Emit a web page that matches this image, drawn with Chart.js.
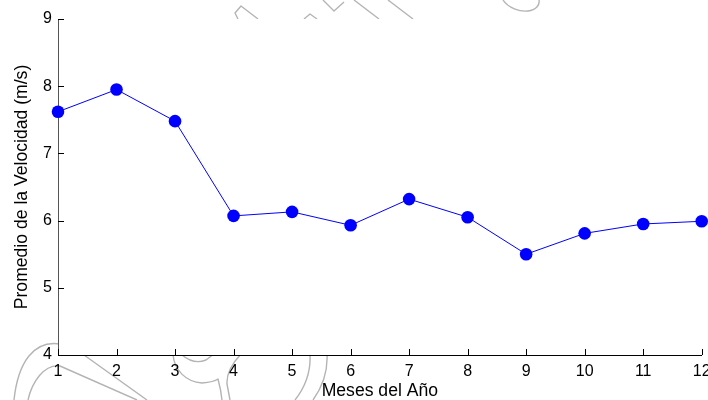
<!DOCTYPE html>
<html>
<head>
<meta charset="utf-8">
<script src="https://cdn.jsdelivr.net/npm/chart.js@4/dist/chart.umd.min.js"></script>
<style>
  html, body { margin: 0; padding: 0; background: #fff; overflow: hidden; }
  #wrap { width: 708px; height: 400px; position: relative; }
</style>
</head>
<body>
<div id="wrap"><canvas id="grafico" width="708" height="400"></canvas></div>
<script>
// Promedio mensual de la velocidad del viento (m/s)
const meses = [1, 2, 3, 4, 5, 6, 7, 8, 9, 10, 11, 12];
const velocidad = [7.62, 7.95, 7.48, 6.07, 6.13, 5.93, 6.32, 6.05, 5.50, 5.81, 5.95, 5.99];
const ticksY = [4, 5, 6, 7, 8, 9];

const FUENTE = "'Liberation Sans', Arial, sans-serif";
const AZUL = '#0000ff';

// Faint line-art printed on the page; the white axes box hides it.
const fondoDibujo = {
  id: 'fondoDibujo',
  beforeDraw(chart) {
    const { ctx, chartArea: a, width, height } = chart;
    ctx.save();
    ctx.beginPath();
    ctx.rect(0, 0, width, height);
    ctx.rect(a.left, a.top, a.right - a.left, a.bottom - a.top);
    ctx.clip('evenodd');
    ctx.strokeStyle = '#b4b4b4';
    ctx.lineWidth = 1.4;
    ctx.lineJoin = 'round';
    const trazo = (f) => { ctx.beginPath(); f(); ctx.stroke(); };
    // lower left loops
    trazo(() => { ctx.moveTo(14, 400); ctx.bezierCurveTo(18, 362, 34, 340, 60, 344); ctx.lineTo(84, 355); ctx.lineTo(147, 400); });
    trazo(() => { ctx.moveTo(28, 400); ctx.bezierCurveTo(32, 382, 44, 364, 60, 366); ctx.lineTo(137, 400); });
    // shape under 3 and 4
    trazo(() => { ctx.moveTo(173, 354); ctx.bezierCurveTo(174, 370, 186, 382, 202, 383); ctx.quadraticCurveTo(214, 382, 218, 379); ctx.quadraticCurveTo(221, 390, 222, 400); });
    trazo(() => { ctx.moveTo(182, 355); ctx.quadraticCurveTo(194, 365, 206, 360); ctx.lineTo(214, 354); });
    trazo(() => { ctx.moveTo(241, 354); ctx.quadraticCurveTo(226, 370, 227, 384); ctx.lineTo(230, 400); });
    // arcs under 5 and 6
    trazo(() => { ctx.moveTo(310, 354); ctx.bezierCurveTo(311, 372, 306, 386, 295, 400); });
    trazo(() => { ctx.moveTo(327, 354); ctx.bezierCurveTo(328, 372, 323, 386, 313, 400); });
    // top edge pieces
    trazo(() => { ctx.moveTo(238, 19); ctx.lineTo(235, 13); ctx.lineTo(241, 6); ctx.lineTo(258, 19); });
    trazo(() => { ctx.moveTo(304, 19); ctx.lineTo(310, 14); ctx.lineTo(317, 19); });
    trazo(() => { ctx.moveTo(323, 0); ctx.lineTo(334, 11); ctx.lineTo(344, 2); });
    trazo(() => { ctx.moveTo(354, 0); ctx.lineTo(379, 19); });
    trazo(() => { ctx.moveTo(388, 0); ctx.lineTo(413, 19); });
    trazo(() => { ctx.moveTo(503, 0); ctx.bezierCurveTo(508, 8, 520, 12, 528, 11); ctx.bezierCurveTo(536, 10, 540, 5, 539, 0); });
    ctx.restore();
  }
};

// Short tick marks pointing into the plot box
const marcasInternas = {
  id: 'marcasInternas',
  afterDraw(chart) {
    const { ctx, scales: { x, y }, chartArea: a } = chart;
    const largo = 6;
    ctx.save();
    ctx.strokeStyle = '#000';
    ctx.lineWidth = 1;
    ctx.beginPath();
    x.ticks.forEach(t => {
      const px = Math.round(x.getPixelForValue(t.value)) + 0.5;
      ctx.moveTo(px, a.bottom);
      ctx.lineTo(px, a.bottom - largo);
    });
    y.ticks.forEach(t => {
      const py = Math.round(y.getPixelForValue(t.value)) + 0.5;
      ctx.moveTo(a.left, py);
      ctx.lineTo(a.left + largo, py);
    });
    ctx.stroke();
    ctx.restore();
  }
};

new Chart(document.getElementById('grafico'), {
  type: 'line',
  data: {
    datasets: [{
      data: meses.map((m, i) => ({ x: m, y: velocidad[i] })),
      borderColor: AZUL,
      borderWidth: 1,
      backgroundColor: AZUL,
      pointBackgroundColor: AZUL,
      pointBorderColor: AZUL,
      pointBorderWidth: 0,
      pointRadius: 6.3,
      tension: 0,
      fill: false,
      clip: false
    }]
  },
  options: {
    responsive: false,
    animation: false,
    devicePixelRatio: 1,
    layout: { padding: { top: 19, right: 6, left: 0, bottom: 0 } },
    plugins: { legend: { display: false }, tooltip: { enabled: false } },
    scales: {
      x: {
        type: 'linear',
        min: 1,
        max: 12,
        afterBuildTicks: s => { s.ticks = meses.map(v => ({ value: v })); },
        afterFit: s => { s.height = 45; s.paddingLeft = 0; s.paddingRight = 0; },
        grid: { display: false, drawTicks: false },
        border: { display: true, color: '#000', width: 1 },
        ticks: {
          color: '#000', padding: 7, maxRotation: 0, autoSkip: false,
          font: { family: FUENTE, size: 16 },
          callback: v => String(v)
        },
        title: {
          display: true, text: 'Meses del Año', color: '#000',
          font: { family: FUENTE, size: 17.6, lineHeight: 1 },
          padding: { top: 0, bottom: 0 }
        }
      },
      y: {
        min: 4,
        max: 9,
        afterBuildTicks: s => { s.ticks = ticksY.map(v => ({ value: v })); },
        afterFit: s => { s.width = 58; s.paddingTop = 0; s.paddingBottom = 0; },
        grid: { display: false, drawTicks: false },
        border: { display: true, color: '#555', width: 1 },
        ticks: {
          color: '#000', padding: 6,
          font: { family: FUENTE, size: 16 },
          callback: v => String(v)
        },
        title: {
          display: true, text: 'Promedio de la Velocidad (m/s)', color: '#000',
          font: { family: FUENTE, size: 17.6, lineHeight: 1 },
          padding: { top: 13, bottom: 0 }
        }
      }
    }
  },
  plugins: [fondoDibujo, marcasInternas]
});
</script>
</body>
</html>
